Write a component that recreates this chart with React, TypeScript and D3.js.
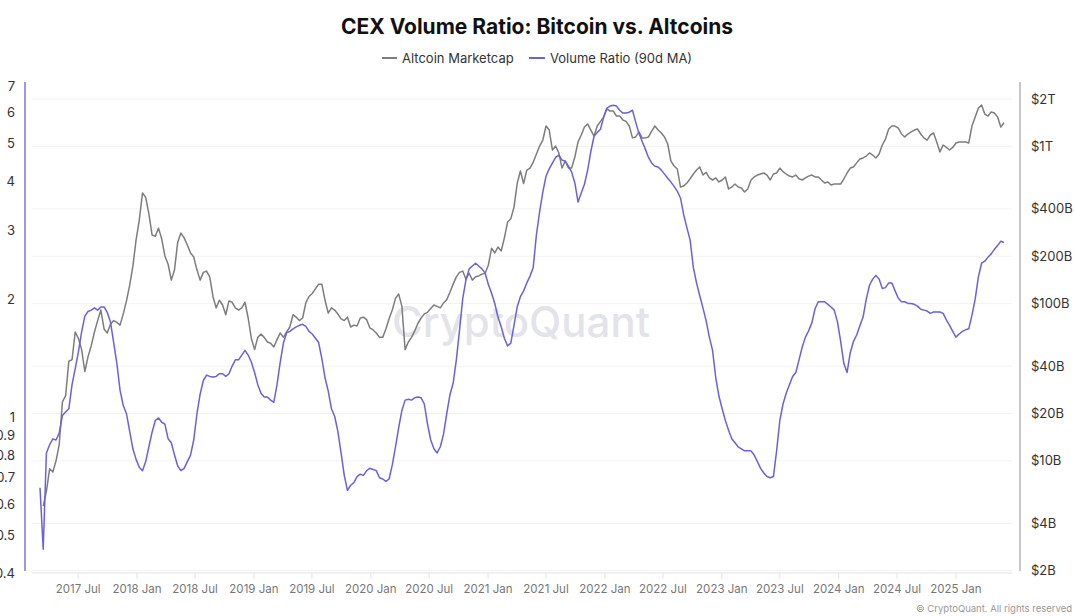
import * as d3 from "d3";

// sampling: one value every 10 days
const STEP_DAYS = 10;
const RATIO_START = new Date(2017, 2, 4);
const ALTCAP_START = new Date(2017, 2, 14);

// Volume Ratio (90d MA)
const volumeRatio = [
  0.66, 0.46, 0.81, 0.85, 0.88, 0.874, 0.91, 1.01, 1.03, 1.05,
  1.21, 1.33, 1.47, 1.65, 1.81, 1.86, 1.875, 1.9, 1.875, 1.91,
  1.91, 1.85, 1.75, 1.55, 1.37, 1.17, 1.07, 1.02, 0.92, 0.83,
  0.78, 0.745, 0.73, 0.77, 0.84, 0.915, 0.98, 0.995, 0.97, 0.96,
  0.88, 0.86, 0.8, 0.75, 0.73, 0.74, 0.77, 0.8, 0.874, 1.02,
  1.145, 1.24, 1.28, 1.27, 1.265, 1.27, 1.29, 1.29, 1.27, 1.29,
  1.35, 1.4, 1.4, 1.44, 1.48, 1.44, 1.38, 1.3, 1.21, 1.15,
  1.125, 1.125, 1.105, 1.09, 1.21, 1.38, 1.545, 1.64, 1.655, 1.68,
  1.7, 1.715, 1.725, 1.705, 1.655, 1.63, 1.59, 1.55, 1.41, 1.26,
  1.165, 1.05, 1.005, 0.92, 0.81, 0.71, 0.65, 0.67, 0.68, 0.705,
  0.715, 0.71, 0.73, 0.74, 0.735, 0.73, 0.7, 0.695, 0.685, 0.695,
  0.755, 0.84, 0.94, 1.04, 1.105, 1.11, 1.105, 1.12, 1.125, 1.12,
  1.08, 0.96, 0.874, 0.83, 0.81, 0.84, 0.905, 1.02, 1.14, 1.22,
  1.4, 1.67, 2.01, 2.24, 2.39, 2.43, 2.47, 2.43, 2.39, 2.33,
  2.18, 2.07, 1.95, 1.8, 1.7, 1.59, 1.52, 1.545, 1.715, 1.91,
  2.03, 2.1, 2.2, 2.29, 2.41, 2.92, 3.34, 3.75, 4.12, 4.3,
  4.45, 4.6, 4.66, 4.53, 4.5, 4.37, 4.22, 3.96, 3.54, 3.73,
  3.93, 4.27, 4.77, 5.21, 5.33, 5.43, 5.83, 6.15, 6.22, 6.25,
  6.22, 6.07, 5.97, 5.97, 6.0, 6.07, 5.66, 5.3, 5.06, 4.83,
  4.6, 4.45, 4.37, 4.35, 4.27, 4.17, 4.07, 3.98, 3.88, 3.77,
  3.62, 3.28, 3.04, 2.83, 2.41, 2.2, 2.04, 1.9, 1.76, 1.6,
  1.48, 1.26, 1.13, 1.05, 0.98, 0.926, 0.88, 0.86, 0.84, 0.83,
  0.82, 0.82, 0.82, 0.8, 0.77, 0.74, 0.72, 0.705, 0.7, 0.705,
  0.82, 0.98, 1.08, 1.15, 1.21, 1.27, 1.3, 1.4, 1.51, 1.6,
  1.66, 1.74, 1.89, 1.97, 1.97, 1.97, 1.94, 1.91, 1.875, 1.75,
  1.56, 1.37, 1.3, 1.46, 1.56, 1.62, 1.71, 1.8, 2.0, 2.17,
  2.25, 2.3, 2.25, 2.13, 2.14, 2.2, 2.2, 2.1, 2.01, 1.97,
  1.97, 1.95, 1.95, 1.94, 1.92, 1.885, 1.875, 1.865, 1.84, 1.855,
  1.855, 1.855, 1.84, 1.77, 1.715, 1.655, 1.6, 1.63, 1.655, 1.67,
  1.68, 1.82, 2.0, 2.28, 2.47, 2.5, 2.56, 2.61, 2.68, 2.74,
  2.81, 2.79,
];

// Altcoin Marketcap, in billions of USD
const altcoinCap = [
  5.15, 6.4, 8.9, 8.5, 10.0, 12.7, 23.7, 26, 43, 44,
  66, 60, 51, 37, 46, 54, 66, 78, 91, 69,
  65, 74, 78, 76, 73, 86, 104, 131, 173, 254,
  340, 505, 474, 372, 273, 268, 302, 258, 201, 178,
  141, 164, 246, 281, 262, 236, 210, 198, 164, 141,
  158, 161, 148, 111, 94, 105, 98, 85, 104, 102,
  94, 91, 94, 102, 81, 60, 51, 61, 64, 61,
  57, 56, 53, 59, 65, 61, 66, 71, 85, 82,
  78, 81, 101, 111, 116, 124, 133, 133, 105, 87,
  94, 91, 86, 80, 78, 82, 71, 73, 72, 81,
  82, 79, 70, 68, 65, 61, 61, 69, 80, 91,
  108, 115, 96, 51, 57, 61, 67, 75, 81, 86,
  88, 93, 98, 96, 94, 101, 106, 118, 133, 148,
  158, 161, 143, 156, 141, 148, 150, 154, 156, 176,
  225, 210, 229, 216, 262, 330, 346, 411, 580, 697,
  580, 707, 728, 793, 894, 1004, 1097, 1347, 1270, 948,
  1004, 908, 728, 806, 728, 728, 856, 1067, 1181, 1328,
  1388, 1270, 1163, 1347, 1442, 1535, 1728, 1678, 1678, 1558,
  1558, 1471, 1442, 1347, 1132, 1148, 1235, 1132, 1132, 1148,
  1251, 1347, 1270, 1216, 1148, 1035, 806, 750, 717, 551,
  560, 585, 622, 667, 707, 740, 657, 683, 630, 611,
  630, 594, 611, 639, 536, 551, 576, 551, 543, 513,
  536, 611, 639, 657, 667, 677, 657, 611, 667, 677,
  728, 690, 667, 647, 639, 657, 622, 611, 630, 647,
  657, 639, 639, 611, 585, 594, 568, 576, 576, 576,
  622, 677, 728, 740, 785, 831, 844, 868, 908, 881,
  844, 894, 1020, 1113, 1289, 1347, 1347, 1308, 1198, 1148,
  1198, 1235, 1270, 1289, 1198, 1132, 1097, 1181, 1216, 1067,
  922, 1020, 984, 948, 984, 1051, 1067, 1067, 1067, 1051,
  1347, 1535, 1750, 1832, 1604, 1558, 1654, 1630, 1535, 1326,
  1412,
];

const leftTicks = [0.4, 0.5, 0.6, 0.7, 0.8, 0.9, 1, 2, 3, 4, 5, 6, 7];
const rightTicks = [2, 4, 10, 20, 40, 100, 200, 400, 1000, 2000];

const W = 1074;
const H = 616;
const left = 32;
const right = 1012;
const top = 86;
const bottom = 573;
const FONT = "Inter, 'Noto Sans', sans-serif";
const GRAY = "#7d7d7d";
const BLUE = "#6b61d8";

const x = d3
  .scaleTime()
  .domain([new Date(2017, 1, 7), new Date(2025, 5, 25)])
  .range([left, right]);
const yL = d3.scaleLog().domain([0.4, 7]).range([bottom, top]);
const yR = d3.scaleLog().domain([1.936, 2420]).range([bottom, top]);

const fmtRight = (v: number) => (v >= 1000 ? `$${v / 1000}T` : `$${v}B`);
const fmtX = d3.timeFormat("%Y %b");

export default function App() {
  const ratioPts = volumeRatio.map((v, i) => ({
    d: d3.timeDay.offset(RATIO_START, i * STEP_DAYS),
    v,
  }));
  const capPts = altcoinCap.map((v, i) => ({
    d: d3.timeDay.offset(ALTCAP_START, i * STEP_DAYS),
    v,
  }));

  const ratioLine = d3
    .line<{ d: Date; v: number }>()
    .x((p) => x(p.d))
    .y((p) => yL(p.v));
  const capLine = d3
    .line<{ d: Date; v: number }>()
    .x((p) => x(p.d))
    .y((p) => yR(p.v));

  const xTicks = x.ticks(d3.timeMonth.every(6)!);

  return (
    <div style={{ position: "absolute", left: 0, top: 0 }}>
      <svg width={W} height={H} style={{ display: "block", background: "#fff" }} fontFamily={FONT}>
        {/* grid */}
        {rightTicks.map((t) => (
          <line key={t} x1={left} x2={right} y1={yR(t)} y2={yR(t)} stroke="#f2f2f4" />
        ))}

        {/* watermark */}
        <text x={521} y={337} textAnchor="middle" fontSize={42} fontWeight={500} fill="#e3e3ea">
          CryptoQuant
        </text>

        {/* x axis */}
        <line x1={left} x2={right} y1={bottom} y2={bottom} stroke="#e2e2e6" />
        {xTicks.map((t) => (
          <g key={+t}>
            <line x1={x(t)} x2={x(t)} y1={bottom} y2={bottom + 6} stroke="#e2e2e6" />
            <text x={x(t)} y={593} textAnchor="middle" fontSize={11.5} fill="#777">
              {fmtX(t)}
            </text>
          </g>
        ))}

        {/* left axis */}
        <line x1={25} x2={25} y1={82} y2={571} stroke="#7d74e2" strokeWidth={1.5} />
        {leftTicks.map((t) => (
          <text key={t} x={15} y={yL(t)} dy="0.35em" textAnchor="end" fontSize={13} fill="#333">
            {t}
          </text>
        ))}

        {/* right axis */}
        <line x1={1020} x2={1020} y1={82} y2={571} stroke="#b4b4b4" strokeWidth={1.5} />
        {rightTicks.map((t) => (
          <text key={t} x={1031} y={yR(t)} dy="0.35em" textAnchor="start" fontSize={13} fill="#333">
            {fmtRight(t)}
          </text>
        ))}

        {/* series */}
        <path d={capLine(capPts) ?? ""} fill="none" stroke={GRAY} strokeWidth={1.5} strokeLinejoin="round" />
        <path d={ratioLine(ratioPts) ?? ""} fill="none" stroke={BLUE} strokeWidth={1.5} strokeLinejoin="round" />

        {/* title + legend */}
        <text x={537} y={34} textAnchor="middle" fontSize={21} fontWeight={700} fill="#111">
          CEX Volume Ratio: Bitcoin vs. Altcoins
        </text>
        <line x1={382} x2={397} y1={58} y2={58} stroke={GRAY} strokeWidth={2} />
        <text x={402} y={62.5} fontSize={13} fill="#333">
          Altcoin Marketcap
        </text>
        <line x1={529} x2={545} y1={58} y2={58} stroke={BLUE} strokeWidth={2} />
        <text x={550} y={62.5} fontSize={13} fill="#333">
          Volume Ratio (90d MA)
        </text>

        {/* footer */}
        <text x={1072} y={612} textAnchor="end" fontSize={9.5} fill="#999">
          © CryptoQuant. All rights reserved
        </text>
      </svg>
    </div>
  );
}
